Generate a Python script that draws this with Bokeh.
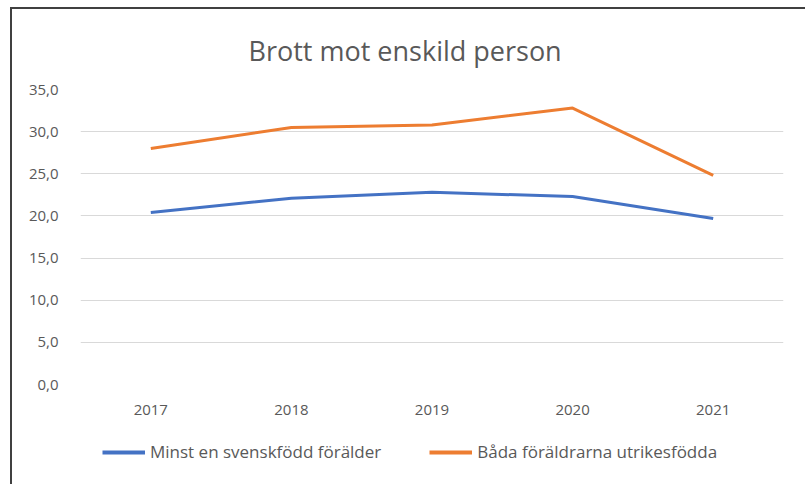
from bokeh.plotting import figure
from bokeh.layouts import column
from bokeh.models import Range1d, FactorRange, CustomJSTickFormatter, Legend, LegendItem, FixedTicker
from bokeh.embed import file_html
from bokeh.resources import INLINE

years = ["2017", "2018", "2019", "2020", "2021"]
minst_en = [20.4, 22.1, 22.8, 22.3, 19.7]
bada = [28.0, 30.5, 30.8, 32.8, 24.8]
y_ticks = [0, 5, 10, 15, 20, 25, 30, 35]
title_text = "Brott mot enskild person"
series_names = ["Minst en svenskfödd förälder", "Båda föräldrarna utrikesfödda"]
colors = ["#4472C4", "#ED7D31"]

FONT = "Open Sans"
GREY = "#595959"

p = figure(width=793, height=421, x_range=FactorRange(*years, range_padding=0),
           y_range=Range1d(0, 35), output_backend="svg", toolbar_location=None,
           min_border_left=68, min_border_right=22, min_border_top=80, min_border_bottom=46)
p.outline_line_color = None

p.title.text = title_text
p.title.align = "left"
p.title.offset = 168
p.title.text_font = FONT
p.title.text_font_size = "27px"
p.title.text_font_style = "normal"
p.title.text_color = GREY
p.title.standoff = 41

p.line(years, minst_en, line_color=colors[0], line_width=3)
p.line(years, bada, line_color=colors[1], line_width=3)

p.yaxis.ticker = FixedTicker(ticks=y_ticks)
p.yaxis.formatter = CustomJSTickFormatter(code="return tick.toFixed(1).replace('.', ',');")
for ax in (p.xaxis[0], p.yaxis[0]):
    ax.axis_line_color = None
    ax.major_tick_line_color = None
    ax.minor_tick_line_color = None
    ax.major_label_text_font = FONT
    ax.major_label_text_font_size = "15px"
    ax.major_label_text_color = GREY
p.yaxis.major_label_standoff = 16
p.xaxis.major_label_standoff = 14

p.xgrid.grid_line_color = None
p.ygrid.grid_line_color = "#d9d9d9"
p.ygrid.grid_line_width = 1

# legend strip below the chart (proxy renderers lie outside its visible range)
pl = figure(width=793, height=54, x_range=Range1d(0, 1), y_range=Range1d(0, 1),
            output_backend="svg", toolbar_location=None, x_axis_location=None, y_axis_location=None,
            min_border=0)
pl.outline_line_color = None
pl.grid.visible = False
r1 = pl.line(x=[5, 6], y=[5, 5], line_color=colors[0], line_width=4)
r2 = pl.line(x=[5, 6], y=[5, 5], line_color=colors[1], line_width=4)
legend = Legend(items=[LegendItem(label=series_names[0], renderers=[r1]),
                       LegendItem(label=series_names[1], renderers=[r2])],
                orientation="horizontal", location=(22, 21))
legend.label_text_font = FONT
legend.label_text_font_size = "17px"
legend.label_text_color = GREY
legend.glyph_width = 43
legend.label_standoff = 5
legend.spacing = 48
legend.border_line_color = None
legend.background_fill_alpha = 0
legend.margin = 0
legend.padding = 0
pl.add_layout(legend, "center")

layout = column(p, pl, spacing=0,
                styles={"margin-left": "10px", "margin-top": "7px",
                        "border-left": "2px solid #404040", "border-top": "2px solid #404040"})

open("out.html", "w").write(file_html(layout, INLINE))
